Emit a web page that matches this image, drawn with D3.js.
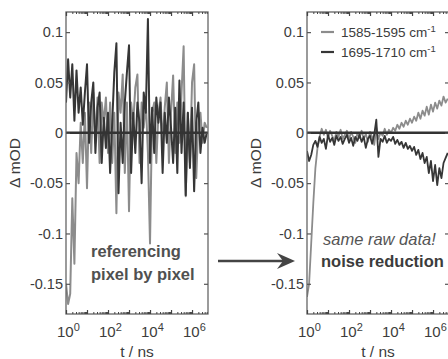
<!DOCTYPE html>
<html>
<head>
<meta charset="utf-8">
<script src="https://cdn.jsdelivr.net/npm/d3@7/dist/d3.min.js"></script>
<style>
body { margin: 0; background: #fff; }
svg { display: block; }
text { font-family: "Liberation Sans", Arial, sans-serif; }
</style>
</head>
<body>
<svg id="chart" width="448" height="359"></svg>
<script>
// log10(t / ns) of every sample
const logT = [0.0, 0.1, 0.2, 0.3, 0.4, 0.5, 0.6, 0.7, 0.8, 0.9,
	1.0, 1.1, 1.2, 1.3, 1.4, 1.5, 1.6, 1.7, 1.8, 1.9,
	2.0, 2.1, 2.2, 2.3, 2.4, 2.5, 2.6, 2.7, 2.8, 2.9,
	3.0, 3.1, 3.2, 3.3, 3.4, 3.5, 3.6, 3.7, 3.8, 3.9,
	4.0, 4.1, 4.2, 4.3, 4.4, 4.5, 4.6, 4.7, 4.8, 4.9,
	5.0, 5.1, 5.2, 5.3, 5.4, 5.5, 5.6, 5.7, 5.8, 5.9,
	6.0, 6.1, 6.2, 6.3, 6.4, 6.5, 6.6, 6.7];

// left panel: referencing pixel by pixel
const rawLight = [-0.150, -0.170, -0.160, -0.065, -0.130, -0.020, -0.050, 0.010, -0.030, 0.020,
	-0.055, 0.030, -0.020, 0.040, -0.010, 0.035, -0.030, 0.030, 0.010, 0.035,
	-0.020, 0.030, -0.030, 0.020, -0.080, 0.040, 0.020, 0.058, -0.040, 0.030,
	-0.078, 0.030, 0.010, 0.045, 0.058, -0.030, 0.030, 0.005, 0.030, -0.020,
	-0.110, 0.020, 0.030, -0.030, 0.020, 0.035, -0.010, 0.025, 0.050, -0.030,
	0.020, 0.057, -0.020, 0.030, -0.010, 0.040, 0.086, -0.063, 0.020, -0.030,
	0.050, 0.068, -0.045, 0.010, 0.020, -0.010, 0.010, 0.005];
const rawDark = [0.030, 0.073, 0.035, 0.068, 0.012, 0.062, 0.020, 0.045, 0.008, 0.040,
	0.068, -0.010, 0.030, 0.050, -0.020, 0.025, 0.040, -0.030, 0.015, -0.015,
	0.020, -0.040, 0.010, 0.060, 0.089, -0.060, 0.010, -0.030, 0.030, 0.060,
	0.087, -0.040, 0.020, -0.020, 0.030, 0.010, -0.050, 0.040, 0.020, 0.113,
	-0.030, 0.025, -0.020, 0.035, 0.010, 0.030, -0.040, 0.020, -0.010, 0.035,
	0.005, -0.030, 0.025, -0.040, 0.052, -0.020, 0.030, -0.062, 0.020, -0.035,
	0.025, -0.058, 0.010, 0.030, -0.020, 0.005, -0.010, 0.000];

// right panel: same raw data, noise reduction
const redLight = [-0.163, -0.150, -0.110, -0.070, -0.035, -0.015, -0.004, 0.004, -0.002, 0.003,
	-0.005, 0.002, -0.003, -0.008, 0.001, -0.004, 0.003, -0.006, -0.002, 0.002,
	-0.007, 0.001, -0.004, -0.010, 0.000, -0.005, 0.002, -0.006, -0.001, -0.009,
	0.001, -0.004, -0.012, 0.005, -0.006, 0.000, -0.003, 0.004, -0.002, 0.003,
	0.000, 0.005, 0.002, 0.008, 0.004, 0.010, 0.006, 0.012, 0.008, 0.014,
	0.010, 0.016, 0.012, 0.020, 0.014, 0.022, 0.017, 0.026, 0.018, 0.028,
	0.021, 0.030, 0.024, 0.032, 0.027, 0.036, 0.030, 0.034];
const redDark = [-0.018, -0.028, -0.022, -0.012, -0.008, -0.014, -0.004, -0.010, -0.006, -0.016,
	-0.002, -0.009, -0.005, -0.012, -0.003, -0.008, -0.004, -0.011, -0.006, -0.002,
	-0.010, -0.005, -0.013, -0.004, -0.008, -0.002, -0.009, -0.004, -0.015, -0.006,
	-0.003, -0.011, -0.002, 0.013, -0.024, -0.006, -0.009, -0.003, -0.010, -0.006,
	-0.008, -0.004, -0.011, -0.007, -0.012, -0.009, -0.015, -0.010, -0.016, -0.013,
	-0.018, -0.014, -0.022, -0.017, -0.026, -0.020, -0.030, -0.024, -0.040, -0.028,
	-0.048, -0.032, -0.052, -0.035, -0.045, -0.030, -0.025, -0.020];

const seriesNames = ['1585-1595', '1695-1710'];
const yTicks = [0.1, 0.05, 0, -0.05, -0.1, -0.15];
const yTickLabels = ['0.1', '0.05', '0', '-0.05', '-0.1', '-0.15'];
const xTickExps = [0, 2, 4, 6];

const colors = ['#8c8c8c', '#363636'];
const plotTop = 12, plotBottom = 314, plotW = 142;

const svg = d3.select('#chart');

const y = d3.scaleLinear()
	.domain([-0.18, 0.12])
	.range([plotBottom, plotTop]);

// minor log ticks, 2..9 per decade
const minorTicks = [];
d3.range(0, 7).forEach(e => d3.range(2, 10).forEach(m => {
	if (e + Math.log10(m) < 6.76) minorTicks.push(m * Math.pow(10, e));
}));

const panels = [
	{ left: 66, series: [rawLight, rawDark], legend: false },
	{ left: 307, series: [redLight, redDark], legend: true },
];

panels.forEach((p, pi) => {
	const x = d3.scaleLog()
		.domain([1, Math.pow(10, 6.76)])
		.range([p.left, p.left + plotW]);

	const g = svg.append('g');

	g.append('clipPath')
		.attr('id', 'clip' + pi)
		.append('rect')
		.attr('x', p.left)
		.attr('y', plotTop)
		.attr('width', plotW)
		.attr('height', plotBottom - plotTop);

	const line = d3.line()
		.x((d, i) => x(Math.pow(10, logT[i])))
		.y(d => y(d));

	p.series.forEach((s, si) => {
		g.append('path')
			.datum(s)
			.attr('clip-path', `url(#clip${pi})`)
			.attr('fill', 'none')
			.attr('stroke', colors[si])
			.attr('stroke-width', pi === 0 ? 2 : 1.8)
			.attr('stroke-linejoin', 'round')
			.attr('d', line);
	});

	// zero line
	g.append('line')
		.attr('x1', p.left)
		.attr('x2', p.left + plotW)
		.attr('y1', y(0))
		.attr('y2', y(0))
		.attr('stroke', '#333')
		.attr('stroke-width', 2.4);

	// frame
	g.append('rect')
		.attr('x', p.left)
		.attr('y', plotTop)
		.attr('width', plotW)
		.attr('height', plotBottom - plotTop)
		.attr('fill', 'none')
		.attr('stroke', '#666')
		.attr('stroke-width', 1.3);

	// y ticks, inward on both sides
	const yAxis = g.append('g')
		.attr('transform', `translate(${p.left},0)`)
		.call(d3.axisLeft(y)
			.tickValues(yTicks)
			.tickFormat((d, i) => yTickLabels[i])
			.tickSizeInner(-4)
			.tickSizeOuter(0)
			.tickPadding(3));
	yAxis.select('.domain').remove();
	yAxis.selectAll('line').attr('stroke', '#555').attr('stroke-width', 1.2);
	yAxis.selectAll('text')
		.attr('fill', '#3c3c3c')
		.style('font-size', '14.5px');

	const yAxisR = g.append('g')
		.attr('transform', `translate(${p.left + plotW},0)`)
		.call(d3.axisRight(y).tickValues(yTicks).tickFormat('').tickSizeInner(-4).tickSizeOuter(0));
	yAxisR.select('.domain').remove();
	yAxisR.selectAll('line').attr('stroke', '#555').attr('stroke-width', 1.2);

	// x ticks, inward top and bottom (major + minor)
	[[plotBottom, d3.axisBottom], [plotTop, d3.axisTop]].forEach(([yy, ax]) => {
		const major = g.append('g')
			.attr('transform', `translate(0,${yy})`)
			.call(ax(x).tickValues([1, 10, 100, 1000, 10000, 100000, 1000000])
				.tickFormat('').tickSizeInner(-4).tickSizeOuter(0));
		major.select('.domain').remove();
		major.selectAll('line').attr('stroke', '#444').attr('stroke-width', 1.2);

		const minor = g.append('g')
			.attr('transform', `translate(0,${yy})`)
			.call(ax(x).tickValues(minorTicks).tickFormat('').tickSizeInner(-2).tickSizeOuter(0));
		minor.select('.domain').remove();
		minor.selectAll('line').attr('stroke', '#444').attr('stroke-width', 1);
	});

	// x tick labels 10^n
	const xl = g.selectAll('.xlab')
		.data(xTickExps)
		.enter()
		.append('text')
		.attr('class', 'xlab')
		.attr('x', d => x(Math.pow(10, d)) - 9)
		.attr('y', 337)
		.attr('fill', '#3c3c3c')
		.style('font-size', '15px');
	xl.append('tspan').text('10');
	xl.append('tspan')
		.attr('dy', -6)
		.style('font-size', '11px')
		.text(d => d);

	// axis titles
	g.append('text')
		.attr('x', p.left + 71)
		.attr('y', 357)
		.attr('text-anchor', 'middle')
		.attr('fill', '#3c3c3c')
		.style('font-size', '15.5px')
		.text('t / ns');

	g.append('text')
		.attr('transform', `translate(${p.left - 46},${y(-0.03)}) rotate(-90)`)
		.attr('text-anchor', 'middle')
		.attr('fill', '#3c3c3c')
		.style('font-size', '15.5px')
		.text('\u0394 mOD');

	if (p.legend) {
		seriesNames.forEach((name, i) => {
			const ly = 32 + i * 20;
			g.append('line')
				.attr('x1', p.left + 14)
				.attr('x2', p.left + 27)
				.attr('y1', ly)
				.attr('y2', ly)
				.attr('stroke', colors[i])
				.attr('stroke-width', 2.2);
			const t = g.append('text')
				.attr('x', p.left + 34)
				.attr('y', ly + 5)
				.attr('fill', '#3c3c3c')
				.style('font-size', '13.5px');
			t.append('tspan').text(name + ' cm');
			t.append('tspan')
				.attr('dy', -5)
				.style('font-size', '9.5px')
				.text('-1');
		});
	}
});

// annotations
svg.append('text')
	.attr('x', 91)
	.attr('y', 257)
	.attr('fill', '#505050')
	.style('font-size', '16.5px')
	.style('font-weight', 'bold')
	.text('referencing');
svg.append('text')
	.attr('x', 91)
	.attr('y', 280)
	.attr('fill', '#505050')
	.style('font-size', '16.5px')
	.style('font-weight', 'bold')
	.text('pixel by pixel');

svg.append('text')
	.attr('x', 323)
	.attr('y', 245)
	.attr('fill', '#555')
	.style('font-size', '16.5px')
	.style('font-style', 'italic')
	.text('same raw data!');
svg.append('text')
	.attr('x', 321)
	.attr('y', 267)
	.attr('fill', '#3c3c3c')
	.style('font-size', '16.5px')
	.style('font-weight', 'bold')
	.text('noise reduction');

// arrow between the panels
svg.append('line')
	.attr('x1', 218)
	.attr('x2', 284)
	.attr('y1', 261)
	.attr('y2', 261)
	.attr('stroke', '#444')
	.attr('stroke-width', 2.6);
svg.append('path')
	.attr('d', 'M295,261 L277,253 L283,261 L277,269 Z')
	.attr('fill', '#444');
</script>
</body>
</html>
